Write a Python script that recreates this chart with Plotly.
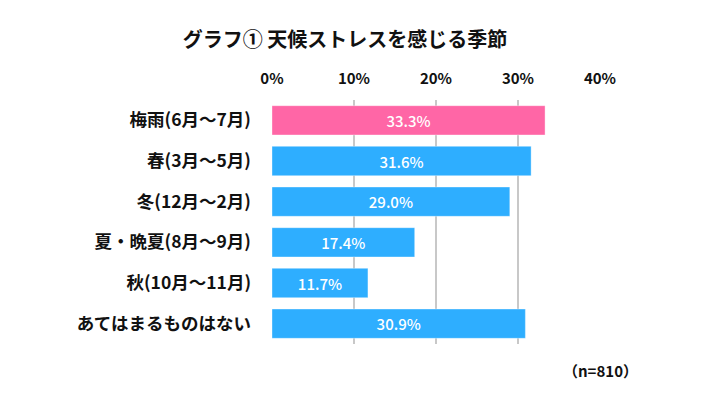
import plotly.graph_objects as go

categories = ["梅雨(6月～7月)", "春(3月～5月)", "冬(12月～2月)", "夏・晩夏(8月～9月)", "秋(10月～11月)", "あてはまるものはない"]
values = [33.3, 31.6, 29.0, 17.4, 11.7, 30.9]
colors = ["#FF66A6", "#2EAEFF", "#2EAEFF", "#2EAEFF", "#2EAEFF", "#2EAEFF"]
tick_vals = [0, 10, 20, 30, 40]
tick_text = ["0%", "10%", "20%", "30%", "40%"]
title = "グラフ① 天候ストレスを感じる季節"
note = "（n=810）"

FONT = "Noto Sans CJK JP"

fig = go.Figure(go.Bar(
    y=categories, x=values, orientation="h",
    marker=dict(color=colors, line=dict(color="rgba(255,255,255,0.35)", width=1)),
    width=0.72,
    text=[f"{v:.1f}%" for v in values], textposition="inside", insidetextanchor="middle",
    textfont=dict(color="white", size=15, family=FONT, weight=500),
    hoverinfo="skip",
))

fig.update_layout(
    width=728, height=400,
    margin=dict(l=264, r=136, t=92, b=64, autoexpand=False),
    paper_bgcolor="white", plot_bgcolor="white",
    font=dict(family=FONT, color="#111"),
    showlegend=False,
    title=dict(text=f"<b>{title}</b>", x=0.463, xanchor="center", y=0.92, yanchor="middle",
               font=dict(size=20, color="#111", family=FONT)),
    xaxis=dict(range=[0, 40], side="top", tickvals=tick_vals, ticktext=tick_text,
               showgrid=True, gridcolor="#c8c8c8", gridwidth=2, zeroline=False,
               showline=False, ticks="", ticklabelstandoff=12, automargin=False,
               tickfont=dict(size=15, color="#111", family=FONT, weight=600)),
    yaxis=dict(autorange="reversed", showgrid=False, zeroline=False, showline=False,
               ticks="", ticklabelstandoff=20, automargin=False,
               tickfont=dict(size=17.5, color="#111", family=FONT, weight=600)),
)
fig.update_layout(annotations=[dict(text=note, x=1.0, y=-0.107, xref="paper", yref="paper",
                                    xanchor="center", yanchor="middle", showarrow=False,
                                    font=dict(size=15, color="#111", family=FONT, weight=600))])
fig.write_html("out.html")
